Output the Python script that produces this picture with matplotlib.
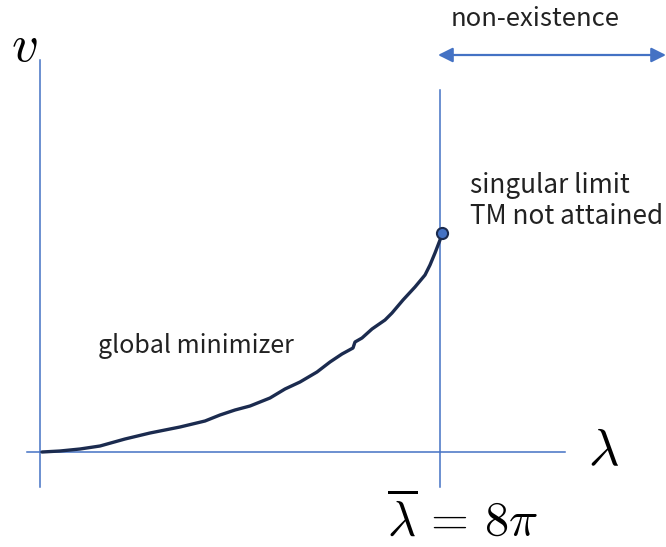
import matplotlib.pyplot as plt

plt.rcParams['mathtext.fontset'] = 'cm'
plt.rcParams['font.family'] = ['Noto Sans CJK JP', 'DejaVu Sans']

# curve: x = lambda offset, y = v (arbitrary units, origin at the axes crossing)
lam = [2, 20, 40, 60, 85, 110, 140, 165, 180, 195, 210, 230, 245, 260, 277,
       290, 302, 313, 315, 322, 332, 345, 352, 363, 375, 385, 390, 395, 400, 402]
v = [0, 1, 3, 6, 13, 19, 25, 31, 37, 42, 46, 54, 63, 70, 80,
     90, 98, 104, 110, 114, 123, 132, 139, 152, 165, 177, 187, 199, 212, 219]
lam_bar = 400
end_v = 219

fig = plt.figure(figsize=(6.66, 5.47), dpi=100)
ax = fig.add_axes([0, 0, 1, 1])
ax.set_xlim(-40, 626)
ax.set_ylim(-95, 452)
ax.axis('off')

blue = '#4472C4'
ax.plot([-13, 525], [0, 0], color=blue, lw=1.1)
ax.plot([0, 0], [-35, 392], color=blue, lw=1.1)
ax.plot([lam_bar, lam_bar], [-35, 362], color=blue, lw=1.1)

ax.plot(lam, v, color='#1B2B4F', lw=2.4, solid_capstyle='round')
ax.plot([lam[-1]], [end_v], 'o', ms=8, mfc=blue, mec='#1B2B4F', mew=1.5)

ax.annotate('', xy=(626, 397), xytext=(398, 397),
            arrowprops=dict(arrowstyle='<|-|>', color=blue, lw=1.6,
                            mutation_scale=22, shrinkA=0, shrinkB=0))
ax.text(495, 433, 'non-existence', fontsize=18.5, ha='center', va='center', color='#222222')
ax.text(430, 251, 'singular limit\nTM not attained', fontsize=18.8, ha='left', va='center',
        color='#222222', linespacing=1.2)
ax.text(58, 106, 'global minimizer', fontsize=18, ha='left', va='center', color='#222222')

ax.text(-16, 407, '$v$', fontsize=38, ha='center', va='center')
ax.text(563, 2, r'$\lambda$', fontsize=38, ha='center', va='center')
ax.text(423, -68, r'$\overline{\lambda}\,=\,8\pi$', fontsize=35, ha='center', va='center')

plt.savefig('out.png')
